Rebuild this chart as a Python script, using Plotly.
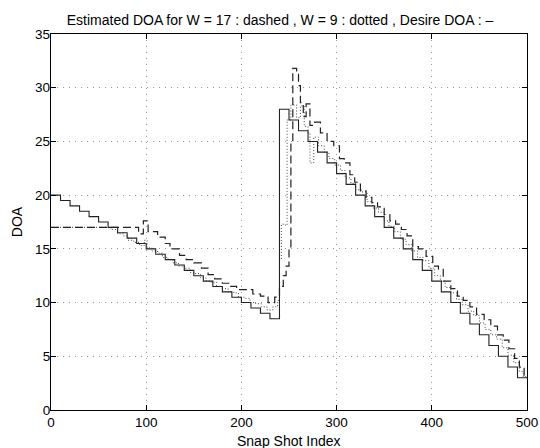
import plotly.graph_objects as go

# Desired DOA (solid): block-constant levels, sample index of each block start
desired_x = [0, 10, 20, 30, 40, 50, 60, 70, 80, 90, 100, 110, 120, 130, 140, 150, 160, 170, 180, 190,
             200, 210, 220, 230, 240, 250, 260, 270, 280, 290, 300, 310, 320, 330, 340, 350, 360, 370,
             380, 390, 400, 410, 420, 430, 440, 450, 460, 470, 480, 490, 500]
desired_y = [20, 19.5, 19, 18.5, 18, 17.5, 17, 16.5, 16, 15.5, 15, 14.5, 14, 13.5, 13, 12.5, 12, 11.5,
             11, 10.5, 10, 9.5, 9, 8.5, 28, 27, 26, 25, 24, 23, 22, 21, 20, 19, 18, 17, 16, 15, 14, 13,
             12, 11, 10, 9, 8, 7, 6, 5, 4, 3, 3]

# Estimated DOA, W = 17 (dashed)
w17_x = [0, 92, 97, 102, 112, 120, 125, 135, 142, 150, 158, 165, 172, 180, 188, 195, 203, 212, 220, 228,
         235, 240, 244, 247, 250, 252, 254, 258, 260, 262, 265, 268, 272, 277, 283, 290, 297, 303, 308, 314,
         319, 325, 331, 337, 343, 350, 356, 362, 368, 374, 380, 386, 394, 401, 407, 412, 420, 427, 433, 440,
         447, 455, 462, 469, 475, 481, 487, 492, 497, 500]
w17_y = [17, 16.4, 17.6, 16.6, 16.1, 15.5, 15.0, 14.4, 14.0, 13.7, 13.2, 12.6, 12.2, 11.8, 11.5, 11.2, 11.2,
         10.8, 10.6, 10.0, 10.5, 11.5, 12.5, 13.4, 15.0, 25.0, 31.8, 31.4, 30.2, 28.6, 27.3, 28.5, 26.5,
         26.8, 25.8, 25.0, 24.6, 23.4, 23.0, 21.9, 21.2, 20.4, 19.8, 19.3, 18.9, 18.2, 17.6, 17.3, 16.8,
         16.2, 15.2, 15.0, 14.3, 13.4, 13.1, 12.0, 11.3, 10.6, 10.2, 9.6, 8.9, 8.4, 7.8, 7.0, 6.5, 5.7, 4.8,
         4.0, 3.2, 3.0]

# Estimated DOA, W = 9 (dotted)
w9_x = [0, 63, 70, 76, 81, 87, 93, 98, 101, 106, 112, 117, 123, 128, 134, 140, 146, 151, 157, 163,
        168, 174, 180, 186, 192, 197, 203, 209, 215, 221, 227, 233, 238, 240, 242, 246, 248, 252, 258, 262,
        266, 270, 272, 276, 281, 287, 292, 298, 304, 309, 315, 320, 326, 332, 338, 344, 350, 355, 361, 367,
        373, 379, 385, 391, 397, 403, 409, 414, 420, 426, 432, 438, 444, 450, 456, 462, 468, 474, 480, 486,
        492, 496, 500]
w9_y = [17, 16.8, 16.4, 16.2, 15.8, 15.6, 15.3, 15.8, 15.1, 14.8, 14.6, 14.2, 14.0, 13.7, 13.4, 13.2, 12.8,
        12.7, 12.3, 12.0, 11.9, 11.5, 11.3, 11.0, 10.9, 10.5, 10.4, 10.0, 9.9, 9.6, 9.3, 9.6, 10.2, 14.0,
        17.3, 17.2, 27.0, 28.4, 27.2, 28.3, 26.4, 25.8, 23.0, 25.4, 24.6, 24.0, 23.4, 22.8, 22.3, 21.6,
        21.1, 20.5, 20.3, 19.4, 18.8, 18.4, 17.6, 17.1, 16.6, 15.9, 15.4, 14.8, 14.2, 13.9, 13.2, 12.5,
        12.0, 11.4, 10.9, 10.3, 9.8, 9.2, 8.8, 8.1, 7.5, 7.0, 6.6, 5.8, 5.1, 4.4, 3.6, 3.1, 3.0]

x_ticks = [0, 100, 200, 300, 400, 500]
y_ticks = [0, 5, 10, 15, 20, 25, 30, 35]

title_text = "Estimated DOA for W = 17 : dashed , W = 9 : dotted , Desire DOA : \u2013"
x_label = "Snap Shot Index"
y_label = "DOA"

FONT = "Liberation Sans, Arial, Helvetica, sans-serif"

W, H = 540, 448
L, R, T, B = 51, 13, 34, 38
plot_h = H - T - B

fig = go.Figure()
fig.add_trace(go.Scatter(x=w9_x, y=w9_y, mode="lines", line_shape="hv",
                         line=dict(color="#444444", width=1, dash="1px,2px"), showlegend=False))
fig.add_trace(go.Scatter(x=w17_x, y=w17_y, mode="lines", line_shape="hv",
                         line=dict(color="#222222", width=1.2, dash="8px,4px"), showlegend=False))
fig.add_trace(go.Scatter(x=desired_x, y=desired_y, mode="lines", line_shape="hv",
                         line=dict(color="#222222", width=1.1), showlegend=False))

axis_common = dict(
    showline=True, linecolor="black", linewidth=1.3, mirror="ticks",
    ticks="inside", ticklen=5, tickcolor="black", tickwidth=1,
    showgrid=True, gridcolor="#999999", gridwidth=1, griddash="1px,5px",
    zeroline=False, automargin=False,
    tickfont=dict(family=FONT, size=13.5, color="black"),
)

fig.update_layout(
    width=W, height=H,
    margin=dict(l=L, r=R, t=T, b=B),
    paper_bgcolor="white", plot_bgcolor="white",
    font=dict(family=FONT, color="black"),
    title=dict(text=title_text, x=280 / W, xanchor="center", xref="container",
               y=1 - 20 / H, yanchor="middle", yref="container",
               font=dict(family=FONT, size=14, color="black")),
    xaxis=dict(range=[0, 500], tickvals=x_ticks, ticktext=[str(v) for v in x_ticks],
               ticklabelstandoff=0, **axis_common),
    yaxis=dict(range=[0, 35], tickvals=y_ticks, ticktext=[str(v) for v in y_ticks],
               ticklabelstandoff=-3,
               title=dict(text=y_label, standoff=9, font=dict(family=FONT, size=14, color="black")),
               **axis_common),
    annotations=[dict(text=x_label, xref="paper", yref="paper", x=0.5, y=-31 / plot_h,
                      xanchor="center", yanchor="middle", showarrow=False,
                      font=dict(family=FONT, size=14, color="black"))],
)

fig.write_html("out.html",
               config={"displayModeBar": False},
               post_script="document.body.style.margin='0';document.body.style.overflow='hidden';")
